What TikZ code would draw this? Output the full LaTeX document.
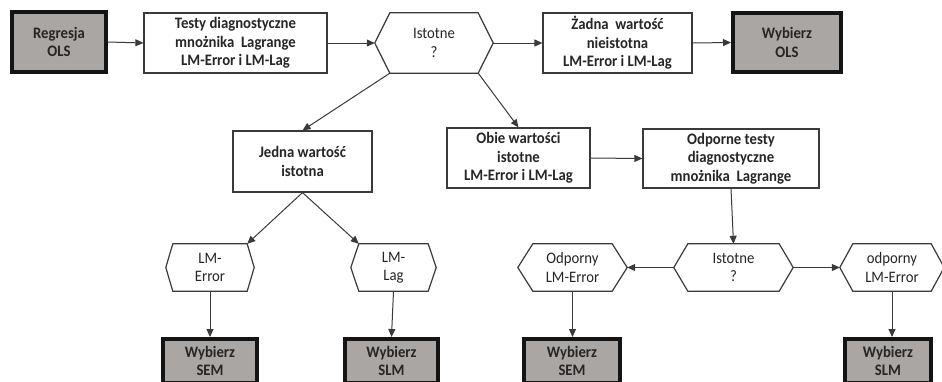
\documentclass[tikz,border=0pt]{standalone}
\usepackage{fontspec}
\setmainfont{Carlito}[FakeStretch=0.92]
\usetikzlibrary{arrows.meta,calc}
\definecolor{lineC}{HTML}{3A3A3A}
\definecolor{txtC}{HTML}{262626}
\definecolor{grayF}{HTML}{A9A6A4}
\newcommand\ff{\fontsize{16}{18.5}\selectfont}
\newcommand\hexdraw[2]{\draw[hexline] (#1.west) -- ([xshift=#2pt]#1.north west) -- ([xshift=-#2pt]#1.north east) -- (#1.east) -- ([xshift=-#2pt]#1.south east) -- ([xshift=#2pt]#1.south west) -- cycle;}
\tikzset{
  box/.style={draw=lineC, line width=1.2pt, fill=white, align=center, inner sep=2pt, font=\ff\bfseries, text=txtC},
  endbox/.style={draw=black!92, line width=4pt, fill=grayF, align=center, inner sep=2pt, font=\ff\bfseries, text=txtC},
  hexn/.style={align=center, inner sep=0pt, font=\ff, text=txtC},
  hexline/.style={draw=lineC, line width=1.2pt},
  arr/.style={draw=lineC, line width=1pt, -{Triangle[length=8pt,width=7pt]}}
}
\begin{document}
\begin{tikzpicture}[x=1pt,y=-1pt]
\useasboundingbox (0,0) rectangle (942,381);
\clip (0,0) rectangle (942,381);
\fill[white] (0,0) rectangle (942,381);
% top row
\node[endbox, minimum width=94pt, minimum height=60pt] (reg) at (59,42) {Regresja\\OLS};
\node[box, minimum width=183pt, minimum height=60pt] (testy) at (235.5,43) {Testy diagnostyczne\\mnożnika\ \ Lagrange\\LM-Error i LM-Lag};
\node[hexn, minimum width=118pt, minimum height=60pt] (hex1) at (434,43) {Istotne\\?};
\hexdraw{hex1}{15}
\node[box, minimum width=149pt, minimum height=60pt] (zadna) at (617.5,43) {Żadna\ \ wartość\\nieistotna\\LM-Error i LM-Lag};
\node[endbox, minimum width=108pt, minimum height=59pt] (olsR) at (787,42.5) {Wybierz\\OLS};
% middle row
\node[box, minimum width=139pt, minimum height=61pt] (jedna) at (302.5,161.5) {Jedna wartość\\istotna};
\node[box, minimum width=143pt, minimum height=60pt] (obie) at (518.5,158) {Obie wartości\\istotne\\LM-Error i LM-Lag};
\node[box, minimum width=176pt, minimum height=59pt] (odporne) at (731,158.5) {Odporne testy\\diagnostyczne\\mnożnika\ \ Lagrange};
% bottom hexagons
\node[hexn, minimum width=88pt, minimum height=47pt] (lmerr) at (210,267.5) {LM-\\Error};
\hexdraw{lmerr}{7}
\node[hexn, minimum width=85pt, minimum height=47pt] (lmlag) at (393.5,267.5) {LM-\\Lag};
\hexdraw{lmlag}{8}
\node[hexn, minimum width=119pt, minimum height=47pt] (hex2) at (733.5,267.5) {Istotne\\?};
\hexdraw{hex2}{14}
\node[hexn, minimum width=109pt, minimum height=47pt] (odpL) at (572.5,267.5) {Odporny\\LM-Error};
\hexdraw{odpL}{15}
\node[hexn, minimum width=104pt, minimum height=47pt] (odpR) at (892,267.5) {odporny\\LM-Error};
\hexdraw{odpR}{13}
% final boxes
\node[endbox, minimum width=94pt, minimum height=44pt] (semL) at (210,361) {Wybierz\\SEM};
\node[endbox, minimum width=93pt, minimum height=44pt] (slmL) at (391.5,361) {Wybierz\\SLM};
\node[endbox, minimum width=96pt, minimum height=44pt] (semR) at (572,361) {Wybierz\\SEM};
\node[endbox, minimum width=86pt, minimum height=44pt] (slmR) at (888,361) {Wybierz\\SLM};
% corner coordinates
\coordinate (h1bl) at ([xshift=15pt]hex1.south west);
\coordinate (h1br) at ([xshift=-15pt]hex1.south east);
\coordinate (errtr) at ([xshift=-7pt]lmerr.north east);
\coordinate (lagtl) at ([xshift=8pt]lmlag.north west);
% connectors
\draw[arr] (reg.east) -- (testy.west);
\draw[arr] (testy.east) -- (hex1.west);
\draw[arr] (hex1.east) -- (zadna.west);
\draw[arr] (zadna.east) -- (olsR.west);
\draw[arr] (h1bl) -- (jedna.north);
\draw[arr] (h1br) -- (obie.north);
\draw[arr] (obie.east) -- (odporne.west);
\draw[arr] (odporne.south) -- (hex2.north);
\draw[arr] (jedna.south) -- (errtr);
\draw[arr] (jedna.south) -- (lagtl);
\draw[arr] (lmerr.south) -- (semL.north);
\draw[arr] (lmlag.south) -- (slmL.north);
\draw[arr] (hex2.west) -- (odpL.east);
\draw[arr] (hex2.east) -- (odpR.west);
\draw[arr] (odpL.south) -- (odpL.south |- semR.north);
\draw[arr] (odpR.south) -- (odpR.south |- slmR.north);
\end{tikzpicture}
\end{document}
